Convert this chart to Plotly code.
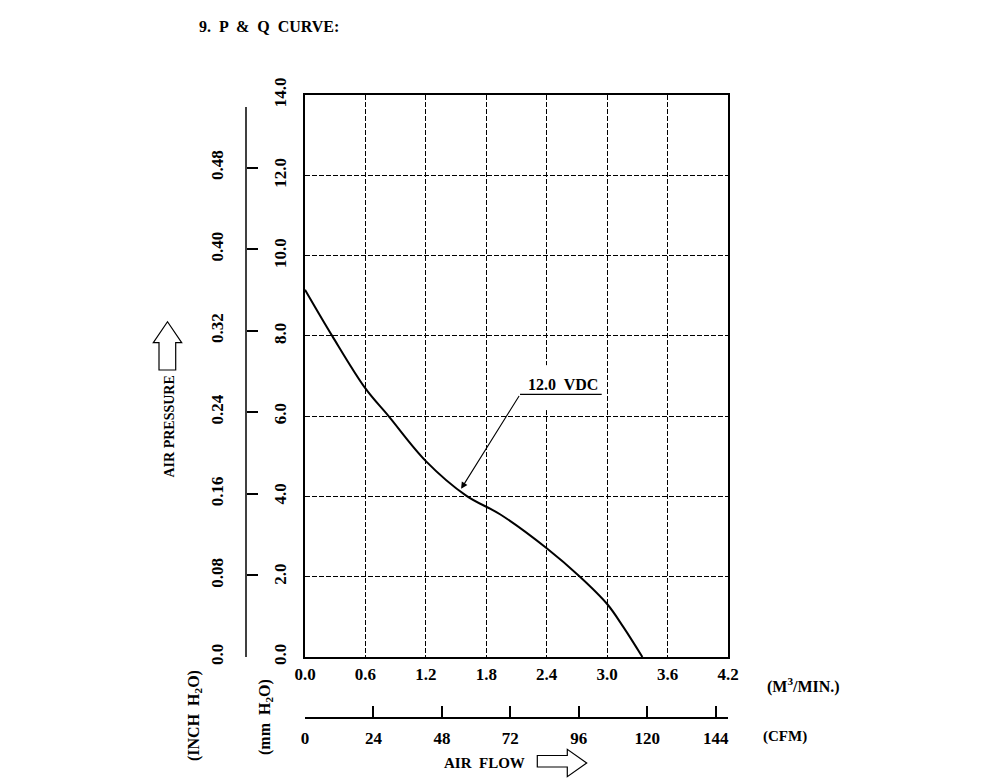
import plotly.graph_objects as go

# P & Q curve, fan at 12.0 VDC
flow_m3 = [0.0, 0.27, 0.6, 0.83, 1.2, 1.6, 1.94, 2.4, 2.73, 3.0, 3.16, 3.35]
pressure_mm = [9.15, 8.0, 6.69, 6.0, 4.88, 4.02, 3.55, 2.71, 2.0, 1.32, 0.75, 0.0]

x_ticks = [0.0, 0.6, 1.2, 1.8, 2.4, 3.0, 3.6, 4.2]
y_ticks = [0.0, 2.0, 4.0, 6.0, 8.0, 10.0, 12.0, 14.0]
inch_ticks = [0.0, 0.08, 0.16, 0.24, 0.32, 0.40, 0.48]
inch_text = ['0.0', '0.08', '0.16', '0.24', '0.32', '0.40', '0.48']
cfm_ticks = [0, 24, 48, 72, 96, 120, 144]

CFM_PER_M3 = 1 / 0.0283168
MM_PER_INCH = 25.4

# page has an 8px body margin, so the figure is a bit smaller than the window
OFF = 8
W, H = 992, 771
ML, MR, MT, MB = 150, 150, 60, 20
PW, PH = W - ML - MR, H - MT - MB


def px(p):
    # page pixel x -> paper fraction
    return (p - OFF - ML) / PW


def py(p):
    # page pixel y -> paper fraction
    return (H - MB - (p - OFF)) / PH


grid_dash = '5px,2px'
font = dict(family='Liberation Serif', size=17, color='black', weight='bold')

fig = go.Figure()
fig.add_trace(go.Scatter(
    x=flow_m3, y=pressure_mm, mode='lines',
    line=dict(color='black', width=2, shape='spline', smoothing=1.0),
    showlegend=False, hoverinfo='skip'))
# helpers so the secondary axes get drawn
fig.add_trace(go.Scatter(x=[0], y=[0], yaxis='y2', mode='lines',
                         line=dict(width=0), showlegend=False, hoverinfo='skip'))
fig.add_trace(go.Scatter(x=[0], y=[0], xaxis='x2', mode='lines',
                         line=dict(width=0), showlegend=False, hoverinfo='skip'))

fig.update_layout(
    width=W, height=H,
    margin=dict(l=ML, r=MR, t=MT, b=MB),
    paper_bgcolor='white', plot_bgcolor='white',
    font=font,
    xaxis=dict(
        domain=[px(305), px(728)], range=[0, 4.2],
        tickvals=x_ticks, ticktext=['%.1f' % v for v in x_ticks],
        showgrid=True, gridcolor='black', gridwidth=1, griddash=grid_dash,
        showline=True, mirror=True, linecolor='black', linewidth=1.5,
        zeroline=False, ticks='', ticklabelstandoff=1, fixedrange=True),
    yaxis=dict(
        domain=[py(657), py(95)], range=[0, 14],
        tickvals=y_ticks, ticktext=['%.1f' % v for v in y_ticks],
        tickangle=-90,
        showgrid=True, gridcolor='black', gridwidth=1, griddash=grid_dash,
        showline=True, mirror=True, linecolor='black', linewidth=1.5,
        zeroline=False, ticks='', ticklabelstandoff=10, fixedrange=True),
    yaxis2=dict(
        overlaying='y', anchor='free', position=px(246), side='left',
        range=[0, 14 / MM_PER_INCH],
        tickvals=inch_ticks, ticktext=inch_text, tickangle=-90,
        ticks='inside', ticklen=11, tickwidth=1.5, tickcolor='black',
        showgrid=False, showline=False, zeroline=False,
        ticklabelstandoff=20, fixedrange=True),
    xaxis2=dict(
        overlaying='x', anchor='free', position=py(718), side='bottom',
        range=[0, 4.2 * CFM_PER_M3],
        tickvals=cfm_ticks, ticktext=[str(v) for v in cfm_ticks],
        ticks='inside', ticklen=11, tickwidth=1.5, tickcolor='black',
        showgrid=False, showline=True, linecolor='black', linewidth=1.5,
        zeroline=False, ticklabelstandoff=5, fixedrange=True),
)

# inch axis spine (stops a little below the top of the frame)
fig.add_shape(type='line', xref='paper', yref='paper',
              x0=px(246), x1=px(246), y0=py(657), y1=py(107),
              line=dict(color='black', width=1.5))

# gap in the 2.4 grid line behind the label
fig.add_shape(type='rect', xref='x', yref='y', x0=2.36, x1=2.44, y0=6.15, y1=7.27,
              fillcolor='white', line=dict(width=0), layer='above')
# label underline
fig.add_shape(type='line', xref='x', yref='y', x0=2.135, x1=2.946, y0=6.54, y1=6.54,
              line=dict(color='black', width=1.2))
fig.add_annotation(x=2.557, y=6.78, xref='x', yref='y', text='12.0  VDC',
                   showarrow=False, font=dict(size=16))
# leader with arrow onto the curve
fig.add_annotation(x=1.55, y=4.19, xref='x', yref='y', ax=2.135, ay=6.54,
                   axref='x', ayref='y', text='', showarrow=True,
                   arrowhead=2, arrowsize=1.2, arrowwidth=1.1, arrowcolor='black')


def arrow_path(pts):
    return 'M ' + ' L '.join('%.5f,%.5f' % (px(a), py(b)) for a, b in pts) + ' Z'


# hollow block arrows
up_arrow = [(159, 370), (159, 342.7), (153.3, 342.7), (167.5, 321.7),
            (181.7, 342.7), (175.7, 342.7), (175.7, 370)]
right_arrow = [(537.3, 755.5), (567.3, 755.5), (567.3, 749.3), (586.7, 763),
               (567.3, 776.7), (567.3, 767), (537.3, 767)]
for pts in (up_arrow, right_arrow):
    fig.add_shape(type='path', xref='paper', yref='paper', path=arrow_path(pts),
                  fillcolor='white', line=dict(color='black', width=1.2))

labels = [
    ('9.  P  &  Q  CURVE:', 197, 27, 0, 'left', 16),
    ('AIR PRESSURE', 169.5, 427, -90, 'center', 14),
    ('(INCH  H<sub>2</sub>O)', 194, 716, -90, 'center', 16),
    ('(mm  H<sub>2</sub>O)', 265, 717, -90, 'center', 16),
    ('(M<sup>3</sup>/MIN.)', 803, 685, 0, 'center', 16),
    ('(CFM)', 785, 736, 0, 'center', 15),
    ('AIR  FLOW', 484, 763, 0, 'center', 15),
]
for text, lx, ly, ang, anchor, size in labels:
    fig.add_annotation(x=px(lx), y=py(ly), xref='paper', yref='paper', text=text,
                       showarrow=False, textangle=ang, xanchor=anchor, yanchor='middle',
                       font=dict(size=size))

fig.write_html('out.html')
